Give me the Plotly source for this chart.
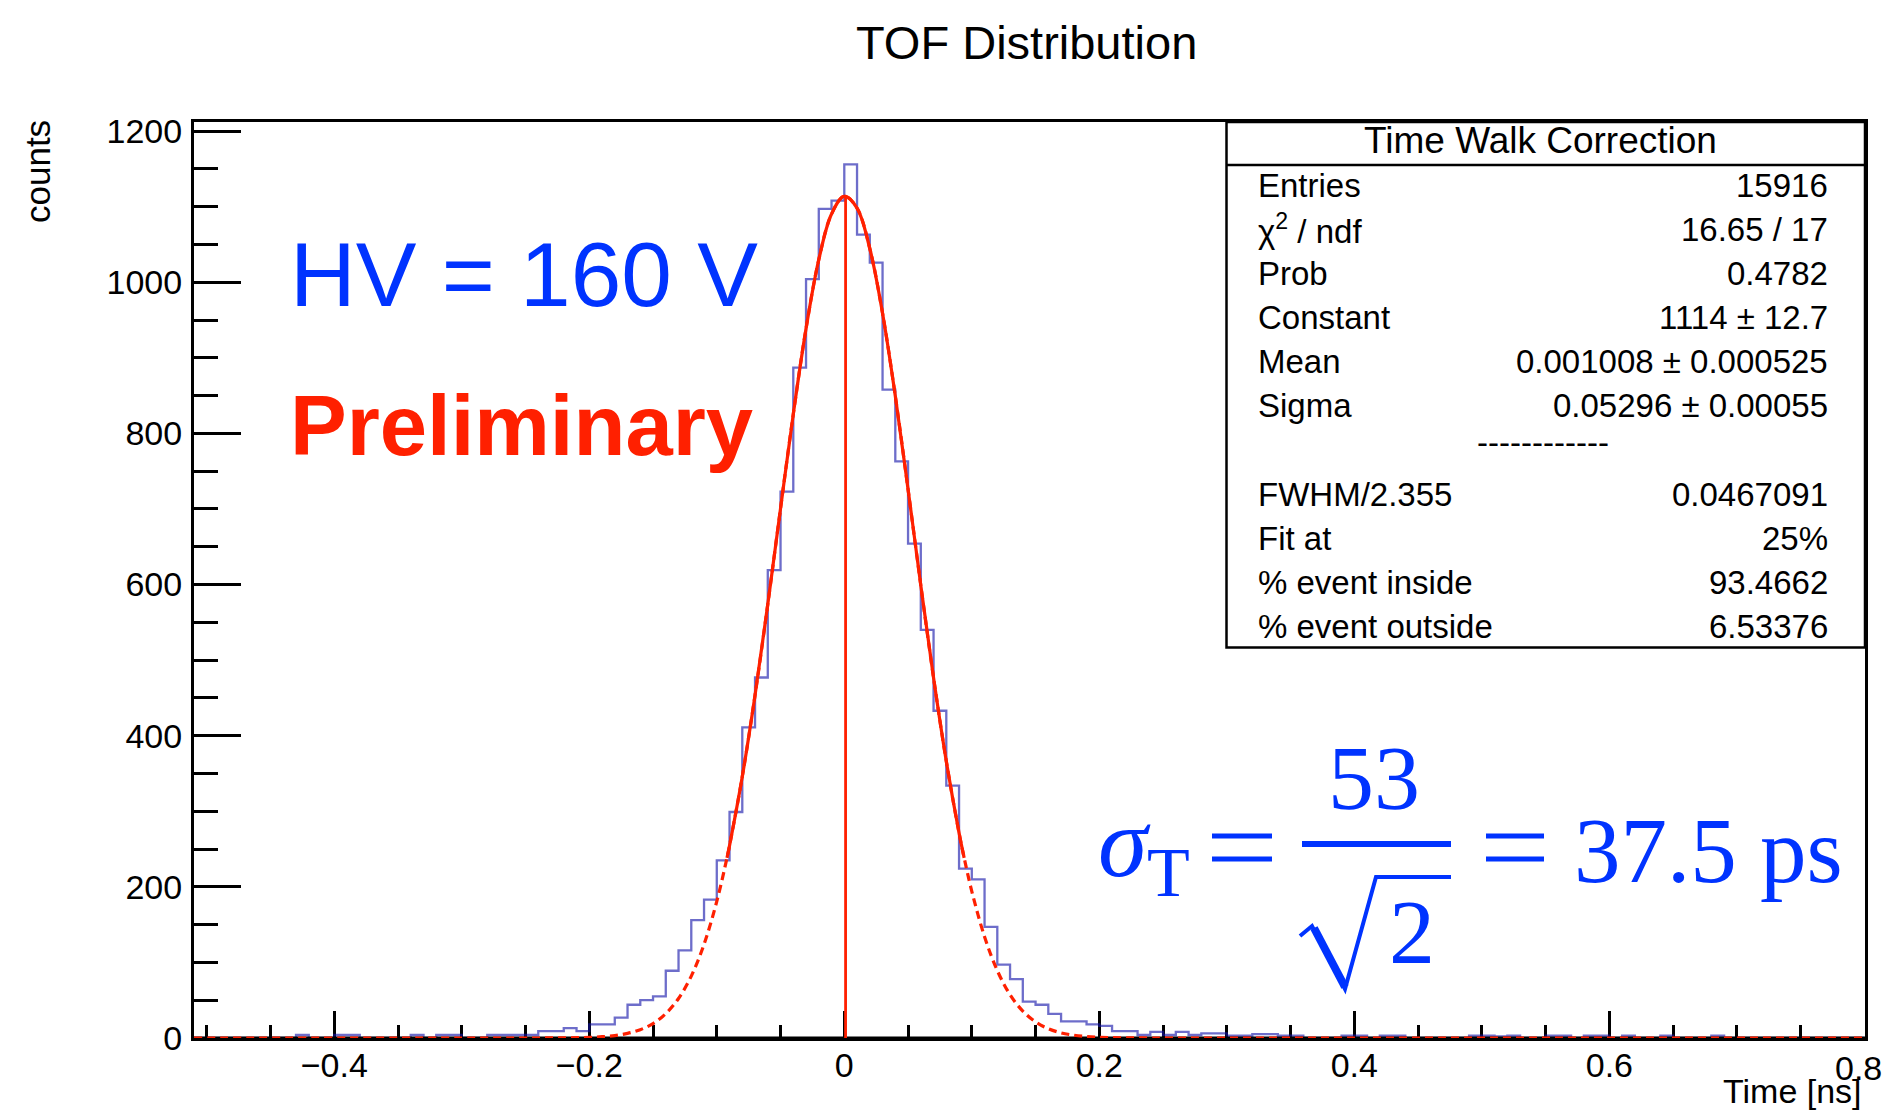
import plotly.graph_objects as go

# ---------------- data ----------------
bin_low = -0.51
bin_width = 0.01
counts = (
    [0, 0, 0, 0, 0, 0, 0, 0, 4, 0]
    + [0, 4, 4, 0, 0, 0, 0, 4, 0, 4]
    + [4, 0, 0, 4, 4, 4, 4, 9, 9, 13]
    + [9, 18, 18, 27, 44, 50, 55, 89, 116, 156]
    + [183, 235, 299, 411, 477, 619, 723, 887, 1004, 1097]
    + [1108, 1156, 1063, 1026, 858, 763, 654, 540, 433, 334]
    + [224, 210, 147, 97, 78, 48, 44, 32, 22, 22]
    + [18, 16, 9, 9, 4, 8, 4, 8, 4, 6]
    + [6, 3, 3, 5, 5, 3, 3, 0, 0, 0]
    + [3, 3, 0, 3, 3, 0, 0, 0, 0, 0]
    + [3, 3, 2, 3, 0, 0, 3, 3, 0, 3]
    + [3, 0, 3, 0, 0, 3, 0, 0, 0, 3]
    + [0, 0, 0, 0, 0, 0, 0, 0, 0, 0, 0]
)

# Gaussian fit curve
fit_x = [-0.51, -0.25, -0.24, -0.23, -0.22, -0.21, -0.20, -0.19, -0.18, -0.17, -0.16,
         -0.15, -0.14, -0.13, -0.12, -0.11, -0.10, -0.092, -0.09, -0.08, -0.07, -0.06,
         -0.05, -0.04, -0.03, -0.02, -0.01, 0.0, 0.01, 0.02, 0.03, 0.04, 0.05, 0.06,
         0.07, 0.08, 0.09, 0.094, 0.10, 0.11, 0.12, 0.13, 0.14, 0.15, 0.16, 0.17, 0.18,
         0.19, 0.20, 0.21, 0.22, 0.23, 0.24, 0.25, 0.80]
fit_y = [0, 0, 0, 0.1, 0.2, 0.4, 0.8, 1.7, 3.2, 6.1, 11.0,
         19.1, 32.2, 52.3, 81.9, 123.9, 180.8, 238.4, 254.6, 345.9, 453.5, 573.9,
         700.7, 825.5, 938.6, 1029.8, 1090.2, 1113.8, 1098.0, 1044.6, 958.9, 849.4, 726.1, 598.9,
         476.7, 366.2, 271.4, 238.4, 194.1, 134.0, 89.2, 57.3, 35.6, 21.3, 12.3, 6.8, 3.7,
         1.9, 1.0, 0.5, 0.2, 0.1, 0, 0, 0]
fit_lo, fit_hi = -0.092, 0.094
fit_const = 1114
fit_mean = 0.001008

x_ticks_range = [-0.51, 0.8005]
y_range = [0, 1212]
last_x_label = "0.8"

stats_labels = ["Entries", "χ<sup>2</sup> / ndf", "Prob", "Constant", "Mean", "Sigma"]
stats_values = ["15916", "16.65 / 17", "0.4782", "1114 ± 12.7", "0.001008 ± 0.000525", "0.05296 ± 0.00055"]
extra_labels = ["FWHM/2.355", "Fit at", "% event inside", "% event outside"]
extra_values = ["0.0467091", "25%", "93.4662", "6.53376"]

# ---------------- layout helpers ----------------
# The page body has an 8px margin on every side; keep the figure inside the window.
OFF = 8
PAGE_W, PAGE_H = 1891, 1119
W, H = PAGE_W - 2 * OFF, PAGE_H - 2 * OFF
PLOT_L, PLOT_T, PLOT_R, PLOT_B = 194, 122, 1865, 1038   # page pixels
ML, MT = PLOT_L - OFF, PLOT_T - OFF
MR = (W + OFF) - PLOT_R
MB = (H + OFF) - PLOT_B
PW = W - ML - MR
PH = H - MT - MB


def px(xp):
    return (xp - PLOT_L) / PW


def py(yp):
    return (PLOT_B - yp) / PH


RED = "#ff2000"
BLUE_TXT = "#0033ff"
HIST = "rgba(20,20,170,0.62)"
SANS = "Liberation Sans"
SERIF = "Liberation Serif"

edges = [bin_low + bin_width * i for i in range(len(counts) + 1)]

fig = go.Figure()
fig.add_trace(go.Scatter(x=edges, y=counts + [counts[-1]], mode="lines",
                         line=dict(shape="hv", color=HIST, width=2.3),
                         hoverinfo="skip", showlegend=False))
# axis baseline drawn between histogram and fit (ROOT drawing order)
fig.add_trace(go.Scatter(x=[x_ticks_range[0], x_ticks_range[1]], y=[y_range[0], y_range[0]],
                         mode="lines", line=dict(color="black", width=3),
                         hoverinfo="skip", showlegend=False))
fig.add_trace(go.Scatter(x=fit_x, y=fit_y, mode="lines",
                         line=dict(shape="spline", color=RED, width=3.2, dash="8px,5px"),
                         hoverinfo="skip", showlegend=False))
sx = [x for x in fit_x if fit_lo <= x <= fit_hi]
sy = [y for x, y in zip(fit_x, fit_y) if fit_lo <= x <= fit_hi]
fig.add_trace(go.Scatter(x=sx, y=sy, mode="lines",
                         line=dict(shape="spline", color=RED, width=3.2),
                         hoverinfo="skip", showlegend=False))
fig.add_trace(go.Scatter(x=[fit_mean, fit_mean], y=[0, fit_const], mode="lines",
                         line=dict(color=RED, width=2.8),
                         hoverinfo="skip", showlegend=False))

axis_common = dict(showgrid=False, zeroline=False, showline=True, linecolor="black",
                   linewidth=3, mirror=True, ticks="inside", tickcolor="black",
                   tickwidth=2.5, layer="below traces",
                   tickfont=dict(family=SANS, size=34, color="black"))

fig.update_xaxes(range=x_ticks_range, tick0=0, dtick=0.2, ticklen=27, ticklabelstandoff=-5,
                 minor=dict(dtick=0.05, tick0=0, ticks="inside", ticklen=13,
                            tickwidth=2.5, tickcolor="black", showgrid=False),
                 **axis_common)
fig.update_yaxes(range=y_range, tick0=0, dtick=200, ticklen=47, ticklabelstandoff=2,
                 minor=dict(dtick=50, tick0=0, ticks="inside", ticklen=24,
                            tickwidth=2.5, tickcolor="black", showgrid=False),
                 **axis_common)

annotations = []


def ann(text, x, y, size, color="black", family=SANS, xanchor="center", yanchor="middle",
        textangle=0):
    annotations.append(dict(text=text, x=px(x), y=py(y), xref="paper", yref="paper",
                            showarrow=False, xanchor=xanchor, yanchor=yanchor,
                            textangle=textangle,
                            font=dict(family=family, size=size, color=color)))


ann("TOF Distribution", 1026, 42, 47)
ann("counts", 38, 172, 35, textangle=-90)
ann("Time [ns]", 1864, 1091, 34, xanchor="right")
# the last x tick label sits pulled inside the canvas, as in the original
ann(last_x_label, 1858, 1068, 34)
ann("HV = 160 V", 288, 274, 91, color=BLUE_TXT, xanchor="left")
ann("<b>Preliminary</b>", 288, 425, 85, color=RED, xanchor="left")

# stats box
ann("Time Walk Correction", 1540, 141, 37)
row_y = [185.5, 229.5, 273.5, 317.5, 361.5, 405.5]
for lab, val, yy in zip(stats_labels, stats_values, row_y):
    ann(lab, 1256, yy, 33, xanchor="left")
    ann(val, 1830, yy, 33, xanchor="right")
ann("------------", 1543, 442, 33)
extra_y = [494.5, 538.5, 582.5, 626.5]
for lab, val, yy in zip(extra_labels, extra_values, extra_y):
    ann(lab, 1256, yy, 33, xanchor="left")
    ann(val, 1830, yy, 33, xanchor="right")

# formula  sigma_T = 53 / sqrt(2) = 37.5 ps
ann("<i>σ</i>", 1124, 842, 100, color=BLUE_TXT, family=SERIF)
ann("T", 1168, 872, 70, color=BLUE_TXT, family=SERIF)
ann("53", 1374, 778, 92, color=BLUE_TXT, family=SERIF)
ann("2", 1412, 932, 92, color=BLUE_TXT, family=SERIF)
ann("37.5 ps", 1572, 850, 93, color=BLUE_TXT, family=SERIF, xanchor="left")

shapes = []
# stats box frame
shapes.append(dict(type="rect", xref="paper", yref="paper", x0=px(1226.5), x1=1.0,
                   y0=py(647.5), y1=1.0, line=dict(color="black", width=2.5),
                   fillcolor="white", layer="above"))
shapes.append(dict(type="line", xref="paper", yref="paper", x0=px(1226.5), x1=1.0,
                   y0=py(165), y1=py(165), line=dict(color="black", width=2.5), layer="above"))


def hline(x0, x1, y, w):
    shapes.append(dict(type="line", xref="paper", yref="paper", x0=px(x0), x1=px(x1),
                       y0=py(y), y1=py(y), line=dict(color=BLUE_TXT, width=w), layer="above"))


hline(1212, 1272, 836, 5)
hline(1212, 1272, 859, 5)
hline(1302, 1451, 844, 6)
hline(1486, 1544, 836, 5)
hline(1486, 1544, 859, 5)

# radical sign
rad_pts = [(1300, 936), (1312, 926), (1345, 989), (1376, 877), (1451, 877)]
path = "M " + " L ".join(f"{px(a):.5f},{py(b):.5f}" for a, b in rad_pts)
shapes.append(dict(type="path", xref="paper", yref="paper", path=path,
                   line=dict(color=BLUE_TXT, width=4), layer="above"))
thick = [(1314, 928), (1345, 987)]
path2 = "M " + " L ".join(f"{px(a):.5f},{py(b):.5f}" for a, b in thick)
shapes.append(dict(type="path", xref="paper", yref="paper", path=path2,
                   line=dict(color=BLUE_TXT, width=8), layer="above"))

fig.update_layout(width=W, height=H, margin=dict(l=ML, r=MR, t=MT, b=MB),
                  paper_bgcolor="white", plot_bgcolor="white", showlegend=False,
                  annotations=annotations, shapes=shapes,
                  font=dict(family=SANS, color="black"))

fig.write_html("out.html", config={"displayModeBar": False})
